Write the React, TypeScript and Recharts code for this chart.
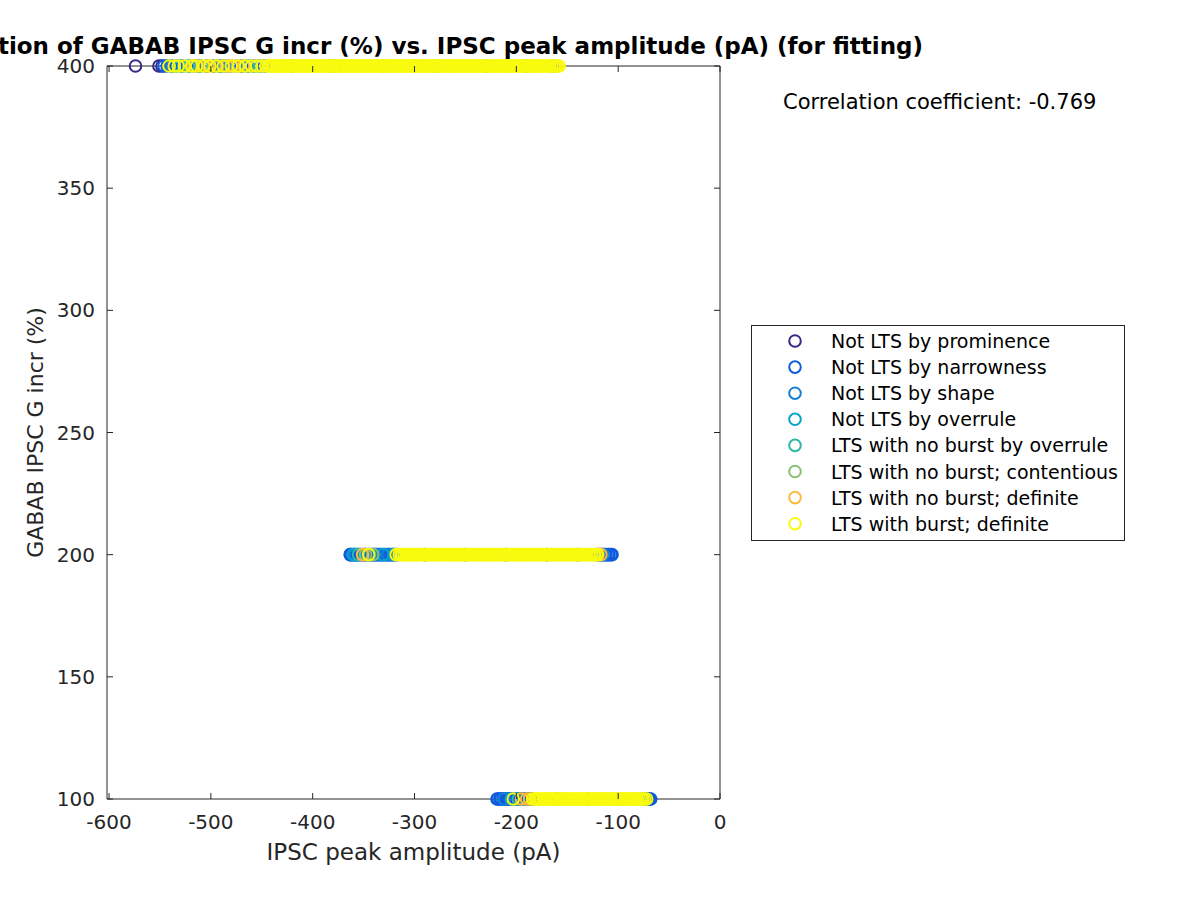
import React from "react";
import { ScatterChart, Scatter, XAxis, YAxis, Legend } from "recharts";

const FONT = "DejaVu Sans";
const AXIS = "#262626";

// y levels of the GABAB conductance increase
const LEVEL_HIGH = 400;
const LEVEL_MID = 200;
const LEVEL_LOW = 100;

const xTicks = [-600, -500, -400, -300, -200, -100, 0];
const yTicks = [100, 150, 200, 250, 300, 350, 400];

const seriesNames = [
  "Not LTS by prominence",
  "Not LTS by narrowness",
  "Not LTS by shape",
  "Not LTS by overrule",
  "LTS with no burst by overrule",
  "LTS with no burst; contentious",
  "LTS with no burst; definite",
  "LTS with burst; definite",
];
const seriesColors = ["#352A87", "#0F5CDD", "#1481D6", "#06A4CA", "#2EB7A4", "#87BF77", "#FCBA3D", "#F9FB0E"];

// peak amplitudes (pA) per class, per level
const prominenceAt400 = [-574, -551, -548];
const prominenceAt200 = [-363];
const prominenceAt100: number[] = [];

const narrownessAt400 = [-546, -543, -539, -534, -527, -520, -512, -504, -497, -489, -481, -470, -459, -451, -447, -420, -380, -330, -280, -230, -190, -165];
const narrownessAt200 = [
  -363, -362, -360, -359, -357, -356, -354, -353, -351, -349, -348, -346, -345, -343, -341, -340, -338, -337, -335, -333,
  -332, -330, -329, -327, -325, -324, -322, -321, -319, -317, -290, -250, -210, -170, -140, -121, -119, -118, -116, -115,
  -113, -112, -110, -109, -107, -106,
];
const narrownessAt100 = [
  -219, -218, -216, -215, -213, -212, -210, -209, -207, -206, -204, -202, -201, -199, -197, -196, -194, -192, -190, -188,
  -186, -184, -160, -130, -100, -74, -73, -71, -70, -69, -68,
];

const shapeAt400 = [-538, -515, -492, -465, -300];
const shapeAt200 = [-358, -339, -326, -115];
const shapeAt100 = [-212, -190, -77];

const overruleAt400 = [-530, -486, -455];
const overruleAt200 = [-360, -331, -320];
const overruleAt100 = [-205];

const noBurstOverruleAt400 = [-522, -463];
const noBurstOverruleAt200 = [-355, -344];
const noBurstOverruleAt100 = [-198];

const contentiousAt400 = [-509, -474];
const contentiousAt200 = [-348, -341];
const contentiousAt100: number[] = [];

const noBurstDefiniteAt400 = [-517, -503, -496, -484, -477, -468, -161];
const noBurstDefiniteAt200 = [-351, -117];
const noBurstDefiniteAt100 = [-195, -190, -187];

const burstAt400 = [
  -541, -536, -532, -526, -519, -514, -507, -501, -494, -488, -480, -473, -466, -460, -455, -450, -446,
  -443, -441, -440, -438, -436, -435, -433, -432, -430, -428, -427, -425, -424, -422, -420, -419, -417, -415, -414, -412,
  -411, -409, -407, -406, -404, -403, -401, -399, -398, -396, -394, -393, -391, -390, -388, -386, -385, -383, -382, -380,
  -378, -377, -375, -373, -372, -370, -369, -367, -365, -364, -362, -361, -359, -357, -356, -354, -352, -351, -349, -348,
  -346, -344, -343, -341, -340, -338, -336, -335, -333, -331, -330, -328, -327, -325, -323, -322, -320, -319, -317, -315,
  -314, -312, -310, -309, -307, -306, -304, -302, -301, -299, -298, -296, -294, -293, -291, -289, -288, -286, -285, -283,
  -281, -280, -278, -277, -275, -273, -272, -270, -268, -267, -265, -264, -262, -260, -259, -257, -256, -254, -252, -251,
  -249, -247, -246, -244, -243, -241, -239, -238, -236, -235, -233, -231, -230, -228, -226, -225, -223, -222, -220, -218,
  -217, -215, -214, -212, -210, -209, -207, -205, -204, -202, -201, -199, -197, -196, -194, -193, -191, -189, -188, -186,
  -184, -183, -181, -180, -178, -176, -175, -173, -172, -170, -168, -167, -165, -163, -162, -160, -158,
];
const burstAt200 = [
  -345, -318, -315, -313, -312, -310, -308, -307, -305, -304, -302, -300, -299, -297, -296, -294, -292, -291, -289, -287,
  -286, -284, -283, -281, -279, -278, -276, -275, -273, -271, -270, -268, -266, -265, -263, -262, -260, -258, -257, -255,
  -254, -252, -250, -249, -247, -245, -244, -242, -241, -239, -237, -236, -234, -233, -231, -229, -228, -226, -224, -223,
  -221, -220, -218, -216, -215, -213, -212, -210, -208, -207, -205, -203, -202, -200, -199, -197, -195, -194, -192, -191,
  -189, -187, -186, -184, -182, -181, -179, -178, -176, -174, -173, -171, -170, -168, -166, -165, -163, -161, -160, -158,
  -157, -155, -153, -152, -150, -149, -147, -145, -144, -142, -140, -139, -137, -136, -134, -132, -131, -129, -128, -126,
  -124, -123, -121, -120,
];
const burstAt100 = [
  -203, -184, -182, -181, -179, -178, -176, -174, -173, -171, -169, -168, -166, -165, -163, -161, -160, -158, -157, -155,
  -153, -152, -150, -148, -147, -145, -144, -142, -140, -139, -137, -136, -134, -132, -131, -129, -127, -126, -124, -123,
  -121, -119, -118, -116, -115, -113, -111, -110, -108, -106, -105, -103, -102, -100, -98, -97, -95, -94, -92, -90,
  -89, -87, -85, -84, -82, -81, -79, -77, -76, -74, -72,
];

const toPoints = (high: number[], mid: number[], low: number[]) => [
  ...high.map((x) => ({ x, y: LEVEL_HIGH })),
  ...mid.map((x) => ({ x, y: LEVEL_MID })),
  ...low.map((x) => ({ x, y: LEVEL_LOW })),
];

const seriesData = [
  toPoints(prominenceAt400, prominenceAt200, prominenceAt100),
  toPoints(narrownessAt400, narrownessAt200, narrownessAt100),
  toPoints(shapeAt400, shapeAt200, shapeAt100),
  toPoints(overruleAt400, overruleAt200, overruleAt100),
  toPoints(noBurstOverruleAt400, noBurstOverruleAt200, noBurstOverruleAt100),
  toPoints(contentiousAt400, contentiousAt200, contentiousAt100),
  toPoints(noBurstDefiniteAt400, noBurstDefiniteAt200, noBurstDefiniteAt100),
  toPoints(burstAt400, burstAt200, burstAt100),
];

const RING_R = 5.8;
const RING_W = 2;

const ring = (color: string) => (p: any) => (
  <circle cx={p.cx} cy={p.cy} r={RING_R} fill="none" stroke={color} strokeWidth={RING_W} />
);

const BottomTick = (p: any) => (
  <g>
    <line x1={p.x} x2={p.x} y1={p.y} y2={p.y - 6} stroke={AXIS} />
    <text x={p.x} y={p.y + 30} textAnchor="middle" fontSize={20} fontFamily={FONT} fill={AXIS}>
      {p.payload.value}
    </text>
  </g>
);
const TopTick = (p: any) => <line x1={p.x} x2={p.x} y1={p.y} y2={p.y + 6} stroke={AXIS} />;
const LeftTick = (p: any) => (
  <g>
    <line x1={p.x} x2={p.x + 6} y1={p.y} y2={p.y} stroke={AXIS} />
    <text x={p.x - 12} y={p.y + 7} textAnchor="end" fontSize={20} fontFamily={FONT} fill={AXIS}>
      {p.payload.value}
    </text>
  </g>
);
const RightTick = (p: any) => <line x1={p.x} x2={p.x - 6} y1={p.y} y2={p.y} stroke={AXIS} />;

const LegendBox = () => (
  <svg width={374} height={216} style={{ display: "block" }}>
    <rect x={0.5} y={0.5} width={373} height={215} fill="#fff" stroke={AXIS} />
    {seriesNames.map((name, i) => (
      <g key={name}>
        <circle cx={44} cy={16 + i * 26.1} r={RING_R} fill="none" stroke={seriesColors[i]} strokeWidth={RING_W} />
        <text x={80} y={16 + i * 26.1 + 7} fontSize={19} fontFamily={FONT} fill="#000">
          {name}
        </text>
      </g>
    ))}
  </svg>
);

export default function App() {
  const last = seriesNames.length - 1;
  return (
    <div style={{ position: "absolute", left: 0, top: 0, width: 1200, height: 900, background: "#fff", overflow: "hidden" }}>
      <ScatterChart width={1200} height={900} margin={{ top: 65, right: 479, bottom: 0, left: 0 }}>
        <XAxis
          dataKey="x"
          type="number"
          domain={[-602, 0]}
          ticks={xTicks}
          height={101}
          stroke={AXIS}
          tickLine={false}
          tickSize={0}
          tickMargin={0}
          tick={BottomTick}
          label={{
            content: (lp: any) => (
              <text
                x={lp.viewBox.x + lp.viewBox.width / 2}
                y={lp.viewBox.y + 61}
                textAnchor="middle"
                fontSize={23}
                fontFamily={FONT}
                fill={AXIS}
              >
                IPSC peak amplitude (pA)
              </text>
            ),
          }}
        />
        <XAxis
          xAxisId="top"
          dataKey="x"
          orientation="top"
          type="number"
          domain={[-602, 0]}
          ticks={xTicks}
          height={1}
          stroke={AXIS}
          tickLine={false}
          tickSize={0}
          tickMargin={0}
          tick={TopTick}
        />
        <YAxis
          dataKey="y"
          type="number"
          domain={[100, 400]}
          ticks={yTicks}
          width={107}
          stroke={AXIS}
          tickLine={false}
          tickSize={0}
          tickMargin={0}
          tick={LeftTick}
          label={{
            content: (lp: any) => (
              <text
                x={lp.viewBox.x + 35}
                y={lp.viewBox.y + lp.viewBox.height / 2}
                transform={`rotate(-90, ${lp.viewBox.x + 35}, ${lp.viewBox.y + lp.viewBox.height / 2})`}
                textAnchor="middle"
                dominantBaseline="central"
                fontSize={22}
                fontFamily={FONT}
                fill={AXIS}
              >
                GABAB IPSC G incr (%)
              </text>
            ),
          }}
        />
        <YAxis
          yAxisId="right"
          dataKey="y"
          orientation="right"
          type="number"
          domain={[100, 400]}
          ticks={yTicks}
          width={1}
          stroke={AXIS}
          tickLine={false}
          tickSize={0}
          tickMargin={0}
          tick={RightTick}
        />
        {seriesNames.map((name, i) => (
          <Scatter
            key={name}
            name={name}
            data={seriesData[i]}
            xAxisId={i === last ? "top" : 0}
            yAxisId={i === last ? "right" : 0}
            fill={seriesColors[i]}
            stroke={seriesColors[i]}
            shape={ring(seriesColors[i])}
            isAnimationActive={false}
          />
        ))}
        <Legend
          layout="vertical"
          align="center"
          verticalAlign="middle"
          width={374}
          height={216}
          wrapperStyle={{ left: 751, top: 325, width: 374, height: 216, margin: 0 }}
          content={() => <LegendBox />}
        />
      </ScatterChart>
      <div
        style={{
          position: "absolute",
          right: 277,
          top: 33,
          whiteSpace: "nowrap",
          fontFamily: FONT,
          fontWeight: "bold",
          fontSize: 23,
          color: "#000",
        }}
      >
        Correlation of GABAB IPSC G incr (%) vs. IPSC peak amplitude (pA) (for fitting)
      </div>
      <div
        style={{
          position: "absolute",
          left: 783,
          top: 90,
          whiteSpace: "nowrap",
          fontFamily: FONT,
          fontSize: 21,
          color: "#000",
        }}
      >
        Correlation coefficient: -0.769
      </div>
    </div>
  );
}
